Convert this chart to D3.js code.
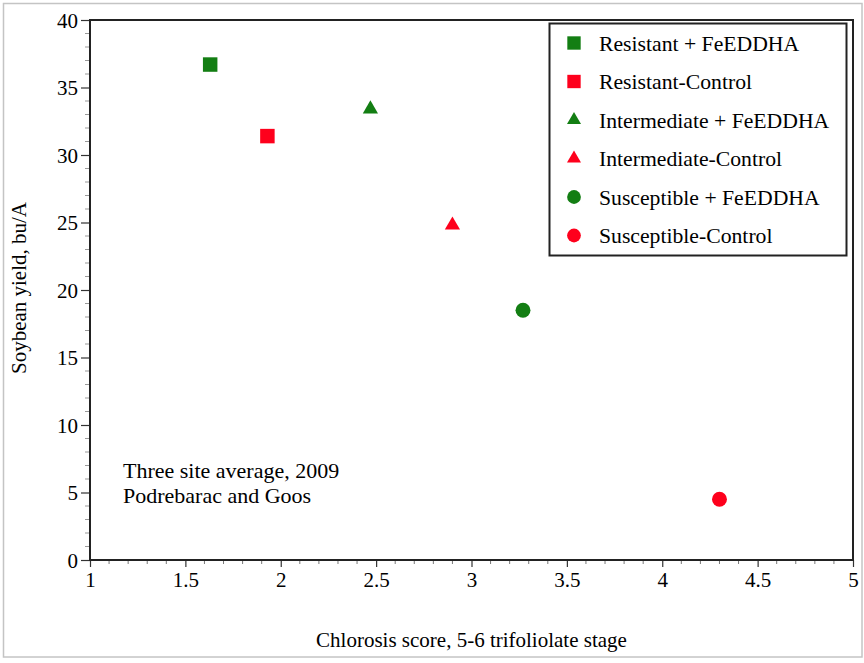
<!DOCTYPE html>
<html>
<head>
<meta charset="utf-8">
<script src="https://cdn.jsdelivr.net/npm/d3@7"></script>
<style>
  body { margin: 0; background: #fff; }
  svg text { font-family: "Liberation Serif", "Times New Roman", serif; fill: #000; }
</style>
</head>
<body>
<svg id="chart" width="864" height="663"></svg>
<script>
// ---- data ----
const seriesNames = ["Resistant + FeEDDHA", "Resistant-Control", "Intermediate + FeEDDHA",
                     "Intermediate-Control", "Susceptible + FeEDDHA", "Susceptible-Control"];
const chlorosis = [1.63, 1.93, 2.47, 2.90, 3.27, 4.30];
const yieldBuA = [36.7, 31.4, 33.4, 24.8, 18.5, 4.5];
const shapes = ["square", "square", "triangle", "triangle", "circle", "circle"];
const treatments = ["FeEDDHA", "Control", "FeEDDHA", "Control", "FeEDDHA", "Control"];
const xTicks = [1, 1.5, 2, 2.5, 3, 3.5, 4, 4.5, 5];
const yTicks = [0, 5, 10, 15, 20, 25, 30, 35, 40];
const xTitle = "Chlorosis score, 5-6 trifoliolate stage";
const yTitle = "Soybean yield, bu/A";
const noteLines = ["Three site average, 2009", "Podrebarac and Goos"];

const colorOf = {FeEDDHA: "#137e13", Control: "#fe001c"};
const symOf = {square: d3.symbolSquare, triangle: d3.symbolTriangle, circle: d3.symbolCircle};
const sizeOf = {square: 210, triangle: 100, circle: 175};

const data = seriesNames.map((n, i) => ({name: n, x: chlorosis[i], y: yieldBuA[i], shape: shapes[i], t: treatments[i]}));

const svg = d3.select("#chart");
const L = 90, R = 853, T = 20, B = 560;
const x = d3.scaleLinear().domain([1, 5]).range([L, R]);
const y = d3.scaleLinear().domain([0, 40]).range([B, T]);

// outer light border
svg.append("rect").attr("x", 3.5).attr("y", 3.5).attr("width", 858.5).attr("height", 653.5)
  .attr("fill", "none").attr("stroke", "#c4c4c4").attr("stroke-width", 1.5);

// minor ticks
const xMinor = d3.range(1, 5.0001, 0.1).filter(v => Math.abs(v * 2 - Math.round(v * 2)) > 1e-6);
const yMinor = d3.range(0, 40.001, 1).filter(v => v % 5 !== 0);
svg.append("g").selectAll("line").data(xMinor).join("line")
  .attr("x1", d => x(d)).attr("x2", d => x(d)).attr("y1", B).attr("y2", B + 4)
  .attr("stroke", "#777").attr("stroke-width", 1);
svg.append("g").selectAll("line").data(yMinor).join("line")
  .attr("x1", L - 5).attr("x2", L).attr("y1", d => y(d)).attr("y2", d => y(d))
  .attr("stroke", "#999").attr("stroke-width", 1);

// axes
const xAxis = d3.axisBottom(x).tickValues(xTicks).tickSize(7).tickPadding(3).tickFormat(d3.format("~g"));
const yAxis = d3.axisLeft(y).tickValues(yTicks).tickSize(9).tickPadding(3).tickFormat(d3.format("~g"));
const gx = svg.append("g").attr("transform", `translate(0,${B})`).call(xAxis);
const gy = svg.append("g").attr("transform", `translate(${L},0)`).call(yAxis);
[gx, gy].forEach(g => {
  g.select(".domain").remove();
  g.attr("font-family", null);
  g.selectAll(".tick line").attr("stroke", "#333").attr("stroke-width", 1.2);
  g.selectAll(".tick text").attr("font-size", 21).attr("fill", "#000");
});
gx.selectAll(".tick text").attr("dy", "0.8em");
gy.selectAll(".tick text").attr("dy", "0.35em");

// frame
svg.append("rect").attr("x", L).attr("y", T).attr("width", R - L).attr("height", B - T)
  .attr("fill", "none").attr("stroke", "#222").attr("stroke-width", 2);

// points
svg.append("g").selectAll("path").data(data).join("path")
  .attr("transform", d => `translate(${x(d.x)},${y(d.y)})`)
  .attr("d", d => d3.symbol().type(symOf[d.shape]).size(sizeOf[d.shape])())
  .attr("fill", d => colorOf[d.t]);

// axis titles
svg.append("text").attr("x", (L + R) / 2).attr("y", 647).attr("text-anchor", "middle")
  .attr("font-size", 21).text(xTitle);
svg.append("text").attr("transform", `translate(26,${(T + B) / 2 - 2}) rotate(-90)`).attr("text-anchor", "middle")
  .attr("font-size", 21).text(yTitle);

// note
svg.append("g").selectAll("text").data(noteLines).join("text")
  .attr("x", 123).attr("y", (d, i) => 478 + i * 25).attr("font-size", 22).text(d => d);

// legend
const lg = svg.append("g");
lg.append("rect").attr("x", 549.5).attr("y", 23.5).attr("width", 297).attr("height", 232)
  .attr("fill", "#fff").attr("stroke", "#222").attr("stroke-width", 2);
const items = lg.selectAll("g.item").data(data).join("g").attr("class", "item")
  .attr("transform", (d, i) => `translate(574,${43 + i * 38.5})`);
items.append("path")
  .attr("d", d => d3.symbol().type(symOf[d.shape]).size(sizeOf[d.shape] * 0.85)())
  .attr("fill", d => colorOf[d.t]);
items.append("text").attr("x", 25).attr("dy", "0.35em").attr("font-size", 21.7).text(d => d.name);
</script>
</body>
</html>
